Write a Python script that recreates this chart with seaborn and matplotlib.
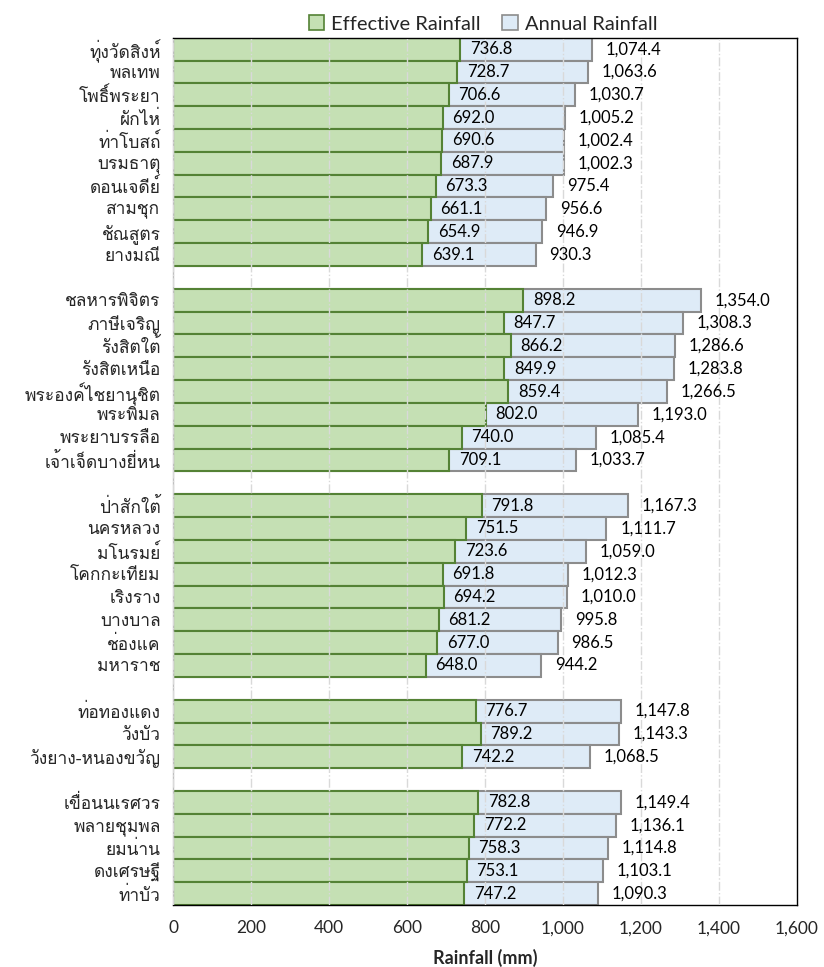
import pandas as pd
import seaborn as sns
import matplotlib.pyplot as plt
from matplotlib import font_manager
from matplotlib.patches import Patch
from matplotlib.ticker import FuncFormatter

# ---- data ----
group_1 = ["ทุ่งวัดสิงห์", "พลเทพ", "โพธิ์พระยา", "ผักไห่", "ท่าโบสถ์",
           "บรมธาตุ", "ดอนเจดีย์", "สามชุก", "ชัณสูตร", "ยางมณี"]
group_2 = ["ชลหารพิจิตร", "ภาษีเจริญ", "รังสิตใต้", "รังสิตเหนือ",
           "พระองค์ไชยานุชิต", "พระพิมล", "พระยาบรรลือ", "เจ้าเจ็ดบางยี่หน"]
group_3 = ["ป่าสักใต้", "นครหลวง", "มโนรมย์", "โคกกะเทียม", "เริงราง",
           "บางบาล", "ช่องแค", "มหาราช"]
group_4 = ["ท่อทองแดง", "วังบัว", "วังยาง-หนองขวัญ"]
group_5 = ["เขื่อนนเรศวร", "พลายชุมพล", "ยมน่าน", "ดงเศรษฐี", "ท่าบัว"]

effective = [736.8, 728.7, 706.6, 692.0, 690.6, 687.9, 673.3, 661.1, 654.9, 639.1,
             898.2, 847.7, 866.2, 849.9, 859.4, 802.0, 740.0, 709.1,
             791.8, 751.5, 723.6, 691.8, 694.2, 681.2, 677.0, 648.0,
             776.7, 789.2, 742.2,
             782.8, 772.2, 758.3, 753.1, 747.2]
annual = [1074.4, 1063.6, 1030.7, 1005.2, 1002.4, 1002.3, 975.4, 956.6, 946.9, 930.3,
          1354.0, 1308.3, 1286.6, 1283.8, 1266.5, 1193.0, 1085.4, 1033.7,
          1167.3, 1111.7, 1059.0, 1012.3, 1010.0, 995.8, 986.5, 944.2,
          1147.8, 1143.3, 1068.5,
          1149.4, 1136.1, 1114.8, 1103.1, 1090.3]
x_ticks = [0, 200, 400, 600, 800, 1000, 1200, 1400, 1600]

groups = [group_1, group_2, group_3, group_4, group_5]
stations = [s for g in groups for s in g]
df = pd.DataFrame({"station": stations, "effective": effective, "annual": annual})

# category order with an empty slot between groups
order = []
for i, g in enumerate(groups):
    order += g
    if i < len(groups) - 1:
        order.append(" " * (i + 1))

sns.set_theme(style="white")
installed = {f.name for f in font_manager.fontManager.ttflist}
# Loma keeps stacked Thai marks visible without text shaping
thai = next((n for n in ["Loma", "FreeSerif", "Anuphan"] if n in installed), "DejaVu Sans")
plt.rcParams["font.family"] = ["Lato", thai, "DejaVu Sans"]

GREEN, GREEN_EDGE = "#c5e0b4", "#548235"
BLUE, BLUE_EDGE = "#deebf7", "#8c8c8c"

fig = plt.figure(figsize=(8.24, 9.67), dpi=100)
ax = fig.add_axes([0.21, 0.064, 0.757, 0.897])

sns.barplot(data=df, y="station", x="annual", order=order, orient="h",
            color=BLUE, edgecolor=BLUE_EDGE, linewidth=1.5, width=1.0,
            saturation=1, errorbar=None, ax=ax)
sns.barplot(data=df, y="station", x="effective", order=order, orient="h",
            color=GREEN, edgecolor=GREEN_EDGE, linewidth=1.5, width=1.0,
            saturation=1, errorbar=None, ax=ax)

ax.bar_label(ax.containers[0], labels=[f"{v:,.1f}" for v in annual],
             padding=10, fontsize=12, color="black")
ax.bar_label(ax.containers[1], labels=[f"{v:.1f}" for v in effective],
             padding=7, fontsize=12, color="black")

ax.set_xlim(0, 1600)
ax.set_ylim(len(order) - 0.5, -0.5)
ax.set_xticks(x_ticks)
ax.xaxis.set_major_formatter(FuncFormatter(lambda v, p: f"{v:,.0f}"))
ax.tick_params(axis="x", length=0, pad=11, labelsize=12.5)
ax.tick_params(axis="y", length=0, pad=9)
for lbl in ax.get_yticklabels():
    lbl.set_fontfamily([thai, "DejaVu Sans"])
    lbl.set_fontsize(12.5)
ax.set_ylabel("")
ax.set_xlabel("Rainfall (mm)", fontsize=13, fontweight="bold", labelpad=9)

ax.set_axisbelow(False)
ax.xaxis.grid(True, linestyle="-.", color="#d9d9d9", linewidth=1)
ax.yaxis.grid(False)

for side in ["top", "right", "bottom"]:
    ax.spines[side].set_color("black")
    ax.spines[side].set_linewidth(1)
ax.spines["left"].set_color("#bfbfbf")
ax.spines["left"].set_linewidth(1)

handles = [Patch(facecolor=GREEN, edgecolor=GREEN_EDGE, linewidth=1.2, label="Effective Rainfall"),
           Patch(facecolor=BLUE, edgecolor=BLUE_EDGE, linewidth=1.2, label="Annual Rainfall")]
fig.legend(handles=handles, loc="upper center", bbox_to_anchor=(0.586, 1.003), ncol=2,
           frameon=False, fontsize=14.5, handlelength=0.75, handleheight=0.75,
           handletextpad=0.35, columnspacing=1.1)

fig.savefig("out.png", dpi=100)
